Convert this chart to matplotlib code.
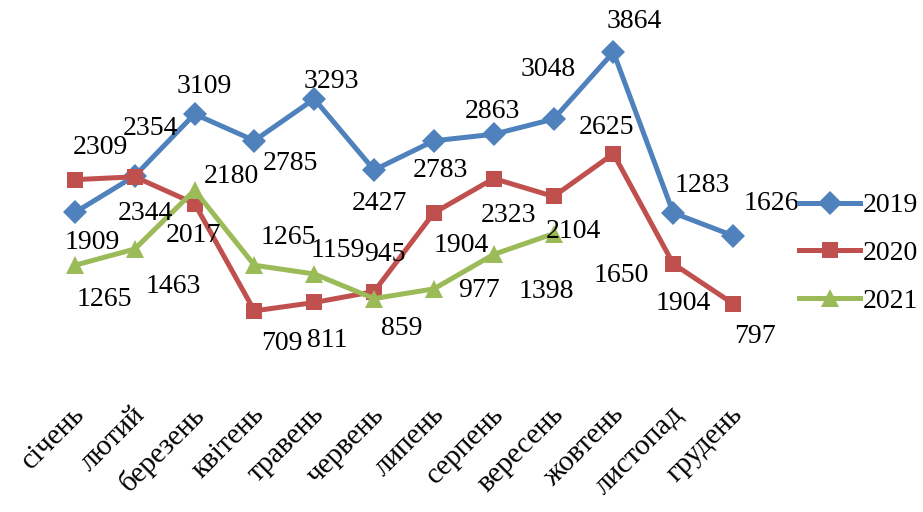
import matplotlib
matplotlib.use("Agg")
import matplotlib.pyplot as plt
import matplotlib.transforms as mtransforms
import numpy as np

months = ["січень", "лютий", "березень", "квітень", "травень", "червень",
          "липень", "серпень", "вересень", "жовтень", "листопад", "грудень"]

y2019 = [1909, 2354, 3109, 2785, 3293, 2427, 2783, 2863, 3048, 3864, 1904, 1626]
y2020 = [2309, 2344, 2017, 709, 811, 945, 1904, 2323, 2104, 2625, 1283, 797]
y2021 = [1265, 1463, 2180, 1265, 1159, 859, 977, 1398, 1650]

# label placement (pixel offsets from the point, x right / y up)
off2019 = [(17, -30), (16, 47), (10, 28), (36, -23), (17, 17), (5, -34),
           (7, -30), (-1, 23), (-5, 50), (21, 31), (10, -91), (38, 32)]
off2020 = [(26, 32), (11, -37), (-1, -32), (27, -33), (13, -38), (11, 37),
           (27, -33), (15, -37), (20, -35), (-7, 26), (29, 78), (22, -33)]
off2021 = [(29, -34), (39, -37), (37, 14), (34, 28), (24, 23), (28, -30),
           (45, -2), (53, -37), (68, -42)]

plt.rcParams["font.family"] = ["Liberation Serif", "DejaVu Serif"]
FS = 20

fig = plt.figure(figsize=(9.23, 5.12), dpi=100)
ax = fig.add_axes([45 / 923, 1 - 369 / 512, (763 - 45) / 923, 369 / 512])

series = [
    ("2019", y2019, off2019, "#4F81BD", "D", 12),
    ("2020", y2020, off2020, "#C0504D", "s", 12),
    ("2021", y2021, off2021, "#9BBB59", "^", 13),
]
for name, vals, offs, col, mk, ms in series:
    x = np.arange(len(vals))
    ax.plot(x, vals, color=col, lw=3.6, marker=mk, markersize=ms,
            markeredgewidth=0, label=name, solid_joinstyle="round")
    for xi, v, (dx, dy) in zip(x, vals, offs):
        ax.annotate(str(v), (xi, v), xytext=(dx, dy), textcoords="offset pixels",
                    ha="center", va="center", fontsize=FS, color="black")

ax.set_xlim(-0.5, len(months) - 0.5)
ax.set_ylim(0, 4500)
ax.set_xticks(np.arange(len(months)))
ax.set_xticklabels(months, rotation=45, ha="right", va="center",
                   rotation_mode="anchor", fontsize=21)
ax.tick_params(axis="x", length=0, pad=30)
ax.set_yticks([])
for s in ax.spines.values():
    s.set_visible(False)

# nudge month labels right a bit
shift = mtransforms.ScaledTranslation(6 / 100, 0, fig.dpi_scale_trans)
for lbl in ax.get_xticklabels():
    lbl.set_transform(lbl.get_transform() + shift)

fig.legend(loc="upper left", bbox_to_anchor=(799 / 923, 1 - 193 / 512),
           frameon=False, fontsize=FS, handlelength=2.2, handletextpad=0.1,
           labelspacing=0.8, borderpad=0, borderaxespad=0)

fig.savefig("out.png", dpi=100)
